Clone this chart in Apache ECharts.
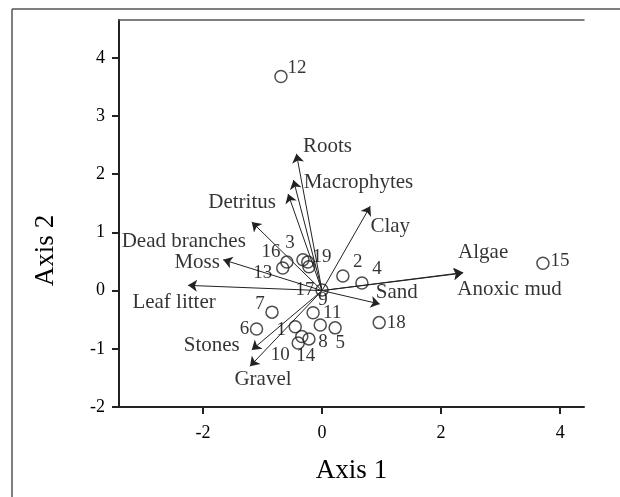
<!DOCTYPE html>
<html>
<head>
<meta charset="utf-8">
<script src="https://cdn.jsdelivr.net/npm/echarts@6/dist/echarts.min.js"></script>
<style>
  html, body { margin: 0; padding: 0; background: #fff; }
  #chart { width: 620px; height: 497px; }
</style>
</head>
<body>
<div id="chart"></div>
<script>
// sites (circles)
const siteNames = ['1', '2', '3', '4', '5', '6', '7', '8', '9', '10',
  '11', '12', '13', '14', '15', '16', '17', '18', '19', ''];
const siteX = [-0.45, 0.35, -0.32, 0.67, 0.22, -1.10, -0.84, -0.22, -0.15, -0.40,
  -0.03, -0.69, -0.66, -0.34, 3.71, -0.59, 0.00, 0.96, -0.22, -0.24];
const siteY = [-0.62, 0.25, 0.53, 0.13, -0.64, -0.66, -0.37, -0.83, -0.38, -0.90,
  -0.59, 3.68, 0.39, -0.79, 0.47, 0.49, 0.01, -0.55, 0.41, 0.49];

// environmental vectors (arrows from origin)
const varNames = ['Roots', 'Macrophytes', 'Detritus', 'Dead branches', 'Clay', 'Moss',
  'Leaf litter', 'Algae', 'Anoxic mud', 'Sand', 'Stones', 'Gravel'];
const varX = [-0.43, -0.48, -0.57, -1.18, 0.81, -1.66, -2.25, 2.37, 2.36, 0.97, -1.18, -1.21];
const varY = [2.35, 1.90, 1.66, 1.18, 1.45, 0.53, 0.09, 0.31, 0.30, -0.23, -1.02, -1.30];

const xTicks = [-2, 0, 2, 4];
const yTicks = [-2, -1, 0, 1, 2, 3, 4];

// label placement (pixels from the mark)
const siteLabelOffset = {
  '1': [-14, 3], '2': [15, -14], '3': [-13, -17], '4': [15, -14], '5': [5, 15],
  '6': [-12, 0], '7': [-12, -8], '8': [14, 3], '9': [10, -13], '10': [-18, 12],
  '11': [12, -12], '12': [16, -8], '13': [-20, 5], '14': [4, 19], '15': [17, -2],
  '16': [-16, -10], '17': [-17, 0], '18': [17, 0], '19': [13, -10], '': [0, 0]
};
const varLabelOffset = {
  'Roots': [31, -7], 'Macrophytes': [65, 2], 'Detritus': [-46, 8],
  'Dead branches': [-68, 20], 'Clay': [20, 20], 'Moss': [-26, 3],
  'Leaf litter': [-14, 17], 'Algae': [20, -20], 'Anoxic mud': [47, 16],
  'Sand': [17, -12], 'Stones': [-40, -4], 'Gravel': [13, 13]
};

const FONT = "'Liberation Serif', 'Times New Roman', serif";
const INK = '#000';

const chart = echarts.init(document.getElementById('chart'));

const option = {
  animation: false,
  backgroundColor: '#fff',
  grid: { left: 119, right: 36, top: 20, bottom: 90, containLabel: false },
  graphic: [
    { type: 'line', shape: { x1: 12, y1: 9, x2: 620, y2: 9 }, style: { stroke: '#555', lineWidth: 1.5 } },
    { type: 'line', shape: { x1: 12, y1: 9, x2: 12, y2: 497 }, style: { stroke: '#555', lineWidth: 1.5 } }
  ],
  xAxis: [
    {
      type: 'value',
      min: -3.41,
      max: 4.40,
      name: 'Axis 1',
      nameLocation: 'middle',
      nameGap: 50,
      nameTextStyle: { fontFamily: FONT, fontSize: 27, color: INK },
      axisLine: { show: true, onZero: false, lineStyle: { color: '#222', width: 2 } },
      axisTick: { show: true, inside: false, length: 7, customValues: xTicks, lineStyle: { color: '#222', width: 2 } },
      axisLabel: { customValues: xTicks, margin: 17, fontFamily: FONT, fontSize: 18, color: INK },
      splitLine: { show: false }
    },
    {
      type: 'value',
      position: 'top',
      min: -3.41,
      max: 4.40,
      axisLine: { show: true, onZero: false, lineStyle: { color: '#555', width: 1.5 } },
      axisTick: { show: false },
      axisLabel: { show: false },
      splitLine: { show: false }
    }
  ],
  yAxis: {
    type: 'value',
    min: -2,
    max: 4.65,
    name: 'Axis 2',
    nameLocation: 'middle',
    nameGap: 60,
    nameTextStyle: { fontFamily: FONT, fontSize: 27, color: INK, padding: [0, 74, 0, 0] },
    axisLine: { show: true, onZero: false, lineStyle: { color: '#222', width: 2 } },
    axisTick: { show: true, inside: false, length: 7, customValues: yTicks, lineStyle: { color: '#222', width: 2 } },
    axisLabel: { customValues: yTicks, margin: 14, fontFamily: FONT, fontSize: 18, color: INK },
    splitLine: { show: false }
  },
  series: [
    {
      type: 'lines',
      coordinateSystem: 'cartesian2d',
      xAxisIndex: 0,
      symbol: ['none', 'arrow'],
      symbolSize: 9,
      lineStyle: { color: '#222', width: 1, opacity: 1 },
      silent: true,
      data: varNames.map((n, i) => ({ coords: [[0, 0], [varX[i], varY[i]]] }))
    },
    {
      type: 'scatter',
      xAxisIndex: 0,
      symbolSize: 0,
      silent: true,
      data: varNames.map((n, i) => ({
        value: [varX[i], varY[i]],
        name: n,
        label: { offset: varLabelOffset[n] }
      })),
      label: {
        show: true,
        position: 'inside',
        formatter: p => p.name,
        fontFamily: FONT,
        fontSize: 21,
        color: INK
      }
    },
    {
      type: 'scatter',
      xAxisIndex: 0,
      symbol: 'circle',
      symbolSize: 12,
      itemStyle: { color: 'rgba(0,0,0,0)', borderColor: '#222', borderWidth: 1.5 },
      silent: true,
      data: siteNames.map((n, i) => ({
        value: [siteX[i], siteY[i]],
        name: n,
        label: { offset: siteLabelOffset[n] }
      })),
      label: {
        show: true,
        position: 'inside',
        formatter: p => p.name,
        fontFamily: FONT,
        fontSize: 19,
        color: INK
      }
    }
  ]
};

chart.setOption(option);
</script>
</body>
</html>
